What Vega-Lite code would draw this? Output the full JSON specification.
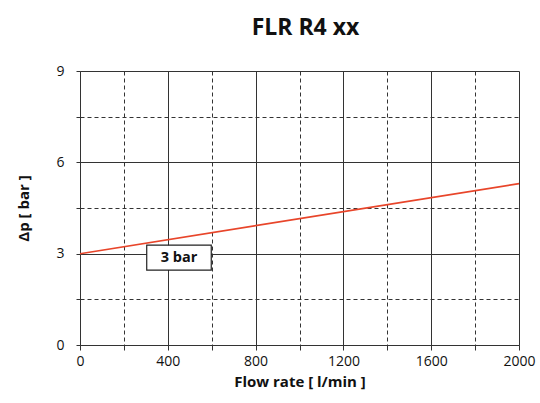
{
  "$schema": "https://vega.github.io/schema/vega-lite/v6.json",
  "autosize": "none",
  "width": 439,
  "height": 274,
  "padding": {"left": 80, "top": 71, "right": 21, "bottom": 58},
  "background": "white",
  "config": {
    "font": "Open Sans",
    "view": {"stroke": null},
    "axis": {
      "labelFont": "Open Sans",
      "titleFont": "Open Sans",
      "labelFontSize": 14,
      "labelColor": "#111",
      "titleFontSize": 15,
      "titleFontWeight": "bold",
      "titleColor": "#111",
      "domainColor": "#333",
      "tickColor": "#333",
      "gridColor": "#333",
      "gridOpacity": 1,
      "gridWidth": 1
    }
  },
  "title": {
    "text": "FLR R4 xx",
    "font": "Open Sans",
    "fontSize": 23,
    "fontWeight": "bold",
    "color": "#111",
    "anchor": "middle",
    "dx": 6,
    "offset": 24
  },
  "datasets": {
    "curve": [{"flow": 0, "dp": 3}, {"flow": 2000, "dp": 5.3}],
    "note": [{"x1": 304, "x2": 598, "y1": 2.46, "y2": 3.28, "xc": 451, "yc": 2.87, "label": "3 bar"}]
  },
  "layer": [
    {
      "data": {"name": "curve"},
      "mark": {"type": "line", "color": "#e8452a", "strokeWidth": 1.6},
      "encoding": {
        "x": {
          "field": "flow", "type": "quantitative",
          "scale": {"domain": [0, 2000], "nice": false},
          "axis": {
            "title": "Flow rate [ l/min ]",
            "values": [0, 200, 400, 600, 800, 1000, 1200, 1400, 1600, 1800, 2000],
            "format": "d",
            "labelExpr": "datum.value % 400 === 0 ? datum.label : ''",
            "grid": true,
            "gridDash": {"condition": {"test": "datum.value % 400 !== 0", "value": [4, 3]}, "value": []},
            "tickSize": 5,
            "labelPadding": 4,
            "titlePadding": 6,
            "labelFlush": false
          }
        },
        "y": {
          "field": "dp", "type": "quantitative",
          "scale": {"domain": [0, 9], "nice": false},
          "axis": {
            "title": "Δp [ bar ]",
            "values": [0, 1.5, 3, 4.5, 6, 7.5, 9],
            "labelExpr": "datum.value % 3 === 0 ? datum.label : ''",
            "grid": true,
            "gridDash": {"condition": {"test": "datum.value % 3 !== 0", "value": [4, 3]}, "value": []},
            "tickSize": 4,
            "labelPadding": 12,
            "titlePadding": 24,
            "labelFlush": false
          }
        }
      }
    },
    {
      "data": {"name": "note"},
      "mark": {"type": "rect", "fill": "white", "stroke": "#222", "strokeWidth": 1.2},
      "encoding": {
        "x": {"field": "x1", "type": "quantitative"},
        "x2": {"field": "x2"},
        "y": {"field": "y1", "type": "quantitative"},
        "y2": {"field": "y2"}
      }
    },
    {
      "data": {"name": "note"},
      "mark": {"type": "text", "font": "Open Sans", "fontSize": 14.5, "fontWeight": "bold", "color": "#111", "baseline": "middle", "align": "center"},
      "encoding": {
        "x": {"field": "xc", "type": "quantitative"},
        "y": {"field": "yc", "type": "quantitative"},
        "text": {"field": "label"}
      }
    }
  ]
}
